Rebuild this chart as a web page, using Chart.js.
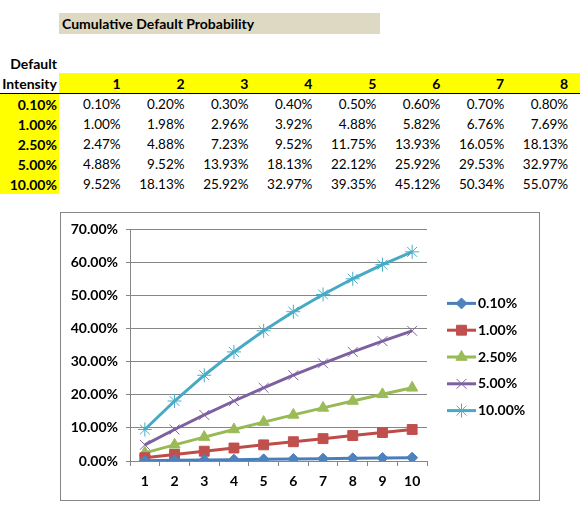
<!DOCTYPE html>
<html>
<head>
<meta charset="utf-8">
<script src="https://cdn.jsdelivr.net/npm/chart.js@4.4.1/dist/chart.umd.min.js"></script>
<style>
  body { margin: 0; width: 580px; height: 509px; background: #fff; font-family: Lato, 'Open Sans', sans-serif; position: relative; overflow: hidden; }
  #titulo { position: absolute; left: 59px; top: 13px; width: 321px; height: 21px; line-height: 21px; background: #DDD9C3; font-weight: bold; font-size: 14px; padding-left: 3px; box-sizing: border-box; }
  #tabla { position: absolute; left: 0; top: 53px; border-collapse: collapse; table-layout: fixed; font-size: 13.5px; }
  #tabla td { height: 20px; padding: 0 2px 0 0; text-align: right; vertical-align: middle; white-space: nowrap; overflow: hidden; }
  #tabla td.b { font-weight: bold; font-size: 14px; }
  #tabla td.am { background: #FFFF00; }
  #tabla tr.cab td { border-bottom: 1px solid #000; }
  #grafico { position: absolute; left: 60px; top: 212px; width: 480px; height: 289px; border: 1px solid #868686; box-sizing: border-box; }
</style>
</head>
<body>
<div id="titulo">Cumulative Default Probability</div>
<table id="tabla"></table>
<div id="grafico"><canvas id="chartCdp" width="478" height="287"></canvas></div>
<script>
const years = ['1', '2', '3', '4', '5', '6', '7', '8', '9', '10'];
const intensityLabels = ['0.10%', '1.00%', '2.50%', '5.00%', '10.00%'];
const cdp010 = [0.10, 0.20, 0.30, 0.40, 0.50, 0.60, 0.70, 0.80, 0.90, 1.00];
const cdp100 = [1.00, 1.98, 2.96, 3.92, 4.88, 5.82, 6.76, 7.69, 8.61, 9.52];
const cdp250 = [2.47, 4.88, 7.23, 9.52, 11.75, 13.93, 16.05, 18.13, 20.15, 22.12];
const cdp500 = [4.88, 9.52, 13.93, 18.13, 22.12, 25.92, 29.53, 32.97, 36.24, 39.35];
const cdp1000 = [9.52, 18.13, 25.92, 32.97, 39.35, 45.12, 50.34, 55.07, 59.34, 63.21];
const tableYears = 8;
const yMax = 70;
const yStep = 10;

const allSeries = [cdp010, cdp100, cdp250, cdp500, cdp1000];
const pct = v => v.toFixed(2) + '%';

// Tabla
function buildTable() {
    const t = document.getElementById('tabla');
    let html = '<colgroup><col style="width:59px">';
    for (let i = 0; i < tableYears; i++) html += '<col style="width:64.5px">';
    html += '<col style="width:10px"></colgroup>';

    html += '<tr><td class="b">Default</td>' + '<td></td>'.repeat(tableYears + 1) + '</tr>';
    html += '<tr class="cab"><td class="b">Intensity</td>';
    for (let i = 0; i < tableYears; i++) html += '<td class="b am">' + years[i] + '</td>';
    html += '<td class="am"></td></tr>';

    allSeries.forEach((s, r) => {
        html += '<tr><td class="b am">' + intensityLabels[r] + '</td>';
        for (let i = 0; i < tableYears; i++) html += '<td>' + pct(s[i]) + '</td>';
        html += '<td></td></tr>';
    });
    t.innerHTML = html;
}
buildTable();

// Leyenda estilo Excel (linea + marcador)
const excelLegend = {
    id: 'excelLegend',
    afterDraw(chart) {
        const ctx = chart.ctx;
        const area = chart.chartArea;
        const x0 = area.right + 20;
        chart.data.datasets.forEach((ds, i) => {
            const y = area.top + 74 + i * 26.8;
            ctx.save();
            ctx.strokeStyle = ds.borderColor;
            ctx.lineWidth = ds.borderWidth;
            ctx.beginPath();
            ctx.moveTo(x0, y);
            ctx.lineTo(x0 + 29, y);
            ctx.stroke();
            ctx.fillStyle = ds.pointBackgroundColor;
            ctx.strokeStyle = ds.pointBorderColor;
            ctx.lineWidth = ds.pointBorderWidth;
            Chart.helpers.drawPoint(ctx, {
                pointStyle: ds.pointStyle,
                radius: ds.pointRadius,
                borderWidth: ds.pointBorderWidth,
                rotation: 0
            }, x0 + 14.5, y);
            ctx.fillStyle = '#000';
            ctx.font = 'bold 14px Lato';
            ctx.textBaseline = 'middle';
            ctx.textAlign = 'left';
            ctx.fillText(ds.label, x0 + 31, y);
            ctx.restore();
        });
    }
};

function serie(label, data, color, fill, style, radius, bw) {
    return {
        label: label,
        data: data,
        borderColor: color,
        borderWidth: 3,
        pointStyle: style,
        pointRadius: radius,
        pointHoverRadius: radius,
        pointBackgroundColor: fill,
        pointBorderColor: fill,
        pointBorderWidth: bw,
        tension: 0,
        fill: false
    };
}

const ctx = document.getElementById('chartCdp').getContext('2d');
Chart.defaults.font.family = 'Lato';
const chartCdp = new Chart(ctx, {
    type: 'line',
    data: {
        labels: years,
        datasets: [
            serie(intensityLabels[0], cdp010, '#4A7EBB', '#4F81BD', 'rectRot', 5.5, 1),
            serie(intensityLabels[1], cdp100, '#BE4B48', '#C0504D', 'rect', 7, 1),
            serie(intensityLabels[2], cdp250, '#98B954', '#9BBB59', 'triangle', 6.5, 1),
            serie(intensityLabels[3], cdp500, '#7D60A0', '#8064A2', 'crossRot', 7, 1),
            serie(intensityLabels[4], cdp1000, '#46AAC5', '#4BACC6', 'star', 7, 1)
        ]
    },
    options: {
        responsive: false,
        animation: false,
        layout: { padding: { top: 15, right: 112, bottom: 0, left: 0 } },
        plugins: {
            legend: { display: false },
            tooltip: { enabled: false }
        },
        scales: {
            x: {
                offset: true,
                grid: { offset: true, drawOnChartArea: false, drawTicks: true, tickLength: 5, color: '#868686' },
                border: { color: '#868686', width: 1 },
                ticks: { color: '#000', font: { size: 14, weight: 'bold' }, padding: 7, maxRotation: 0 },
                afterFit: scale => { scale.height = 39; }
            },
            y: {
                min: 0,
                max: yMax,
                grid: { color: '#868686', tickLength: 4 },
                border: { color: '#868686', width: 1 },
                ticks: {
                    stepSize: yStep,
                    color: '#000',
                    font: { size: 14, weight: 'bold' },
                    padding: 8,
                    callback: v => pct(v)
                },
                afterFit: scale => { scale.width = 69; }
            }
        }
    },
    plugins: [excelLegend]
});
</script>
</body>
</html>
